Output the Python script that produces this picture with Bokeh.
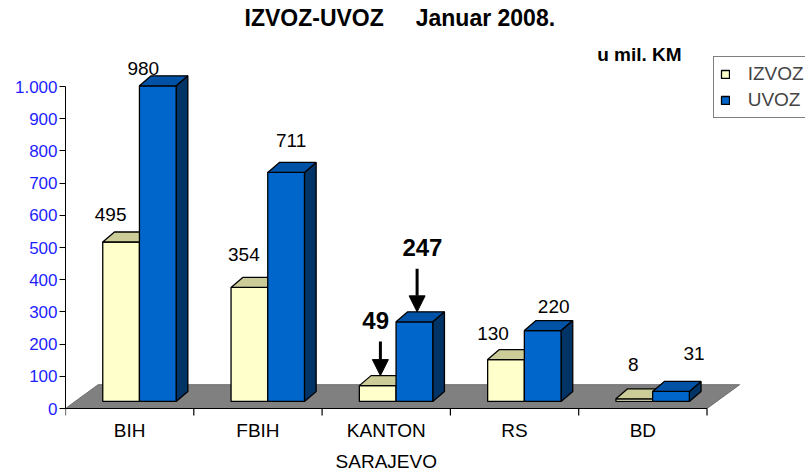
from bokeh.plotting import figure
from bokeh.models import (Range1d, FixedTicker, Legend, LegendItem, Arrow,
                          NormalHead, Label, ColumnDataSource, Title)
from bokeh.core.properties import value
from bokeh.embed import file_html
from bokeh.resources import INLINE

# ---------------- data ----------------
categories = ["BIH", "FBIH", "KANTON\nSARAJEVO", "RS", "BD"]
izvoz = [495, 354, 49, 130, 8]
uvoz = [980, 711, 247, 220, 31]
highlight = [False, False, True, False, False]
y_ticks = [0, 100, 200, 300, 400, 500, 600, 700, 800, 900, 1000]
y_tick_labels = ["0", "100", "200", "300", "400", "500", "600", "700", "800", "900", "1.000"]
series_names = ["IZVOZ", "UVOZ"]
title_text = "IZVOZ-UVOZ\u00a0\u00a0\u00a0\u00a0\u00a0Januar 2008."
unit_text = "u mil. KM"

# ---------------- layout constants (pixels) ----------------
W, H = 805, 472
B_LEFT, B_TOP = 65, 30
FRAME_W = W - B_LEFT
ZERO_PX = 408            # page y of value 0 (front edge of the floor)
PX_PER_CAT = 128.3
PX_PER_VAL = 0.322
FONT = "Liberation Sans"

FLOOR_DEPTH = (32.6, 23.8)
BAR_SHIFT = (9.8, 7.1)
BAR_DEPTH = (11.7, 10.0)
BAR_W = 36.7

# label nudges relative to the bar's front-face centre / top (pixels)
LABEL_DX = [[-10.5, -5.5, -2.0, -13.0, -1.0], [-14.5, 5.0, 8.0, 11.0, 23.0]]
LABEL_UP = [[27.5, 33.0, 65.0, 26.0, 34.0], [17.5, 32.0, 74.0, 24.0, 38.0]]

FRONT = ["#FFFFCC", "#0066CC"]
TOPC = ["#CCCC99", "#0052A6"]
SIDE = ["#999966", "#003366"]


def ux(px):
    return px / PX_PER_CAT


def uy(px):
    return px / PX_PER_VAL


n = len(categories)

p = figure(width=W, height=H,
           x_range=Range1d(0, ux(FRAME_W)),
           y_range=Range1d(uy(-(H - ZERO_PX)), uy(ZERO_PX - B_TOP)),
           x_axis_location=None,
           output_backend="svg", toolbar_location=None,
           min_border_left=B_LEFT, min_border_right=0,
           min_border_top=B_TOP, min_border_bottom=0)
p.outline_line_color = None
p.xgrid.visible = False
p.ygrid.visible = False
p.background_fill_color = "white"
p.border_fill_color = "white"

p.add_layout(Title(text=title_text, align="left", offset=179,
                   text_font=FONT, text_font_size="23px", text_font_style="bold",
                   standoff=0, text_color="black"), "above")

# floor
fx, fy = ux(FLOOR_DEPTH[0]), uy(FLOOR_DEPTH[1])
p.patch([0, n, n + fx, fx], [0, 0, fy, fy], fill_color="#808080",
        line_color="#6E6E6E", line_width=1)

# category axis: front edge, boundary ticks, labels
p.line([0, n], [0, 0], line_color="black", line_width=1.2)
bounds_x = list(range(n + 1))
p.segment(x0=bounds_x, y0=[0] * (n + 1), x1=bounds_x, y1=[uy(-7)] * (n + 1),
          line_color="black", line_width=1.2)
centers = [i + 0.5 for i in range(n)]
p.text(x=centers, y=[uy(-11.5)] * n, text=categories, text_font=value(FONT),
       text_font_size="19px", text_align="center", text_baseline="top",
       text_line_height=1.46, text_color="black")

# bars
bx, by = ux(BAR_SHIFT[0]), uy(BAR_SHIFT[1])
dx, dy = ux(BAR_DEPTH[0]), uy(BAR_DEPTH[1])
bw = ux(BAR_W)
front_renderers = []
label_pos = []
for s, vals in enumerate([izvoz, uvoz]):
    x0 = [i + 0.5 - bw + s * bw + bx for i in range(n)]
    x1 = [a + bw for a in x0]
    base = [by] * n
    top = [by + v for v in vals]
    side_xs = [[b, b + dx, b + dx, b] for b in x1]
    side_ys = [[bb, bb + dy, t + dy, t] for bb, t in zip(base, top)]
    p.patches(side_xs, side_ys, fill_color=SIDE[s], line_color="black", line_width=1.3)
    fr = p.quad(left=x0, right=x1, bottom=base, top=top, fill_color=FRONT[s],
                line_color="black", line_width=1.3)
    front_renderers.append(fr)
    top_xs = [[a, b, b + dx, a + dx] for a, b in zip(x0, x1)]
    top_ys = [[t, t, t + dy, t + dy] for t in top]
    p.patches(top_xs, top_ys, fill_color=TOPC[s], line_color="black", line_width=1.3)
    for i in range(n):
        cx = (x0[i] + x1[i]) / 2
        label_pos.append((cx, top[i], vals[i], highlight[i], s, i))

# value labels
norm = dict(x=[], y=[], t=[])
bold = dict(x=[], y=[], t=[])
for cx, t, v, hl, s, i in label_pos:
    lx = cx + ux(LABEL_DX[s][i])
    ly = t + uy(LABEL_UP[s][i])
    d = bold if hl else norm
    d["x"].append(lx)
    d["y"].append(ly)
    d["t"].append(str(v))
    if hl:
        ax = cx + ux(2.7)
        p.add_layout(Arrow(end=NormalHead(size=16, fill_color="black", line_color="black"),
                           x_start=ax, y_start=ly - uy(21), x_end=ax, y_end=t + uy(10),
                           line_width=3, line_color="black"))

p.text(x="x", y="y", text="t", source=ColumnDataSource(norm), text_font=value(FONT),
       text_font_size="19px", text_align="center", text_baseline="middle", text_color="black")
p.text(x="x", y="y", text="t", source=ColumnDataSource(bold), text_font=value(FONT),
       text_font_size="24px", text_font_style="bold", text_align="center",
       text_baseline="middle", text_color="black")

# unit note
p.add_layout(Label(x=ux(596.7 - B_LEFT), y=uy(ZERO_PX - 53.5), text=unit_text, text_font=FONT,
                   text_font_size="19px", text_font_style="bold", text_baseline="middle",
                   text_align="left", text_color="black"))

# y axis
ya = p.yaxis[0]
ya.ticker = FixedTicker(ticks=y_ticks, minor_ticks=[])
ya.major_label_overrides = {t: l for t, l in zip(y_ticks, y_tick_labels)}
ya.bounds = (y_ticks[0], y_ticks[-1])
ya.major_tick_out = 6
ya.major_tick_in = 0
ya.minor_tick_out = 0
ya.minor_tick_in = 0
ya.major_label_standoff = 2
ya.major_label_text_color = "#1E1EFF"
ya.major_label_text_font = FONT
ya.major_label_text_font_size = "17px"
ya.axis_line_color = "black"
ya.major_tick_line_color = "black"

# legend
legend = Legend(items=[LegendItem(label=series_names[k], renderers=[front_renderers[k]])
                       for k in range(2)],
                location=(712.7 - B_LEFT, H - 118.3), orientation="vertical",
                glyph_width=10, glyph_height=10, label_text_font=FONT,
                label_text_font_size="19px", label_standoff=18, padding=6, spacing=4,
                margin=0, border_line_color="black", border_line_width=1,
                background_fill_color="white", background_fill_alpha=1.0)
p.add_layout(legend)

open("out.html", "w").write(file_html(p, INLINE))
